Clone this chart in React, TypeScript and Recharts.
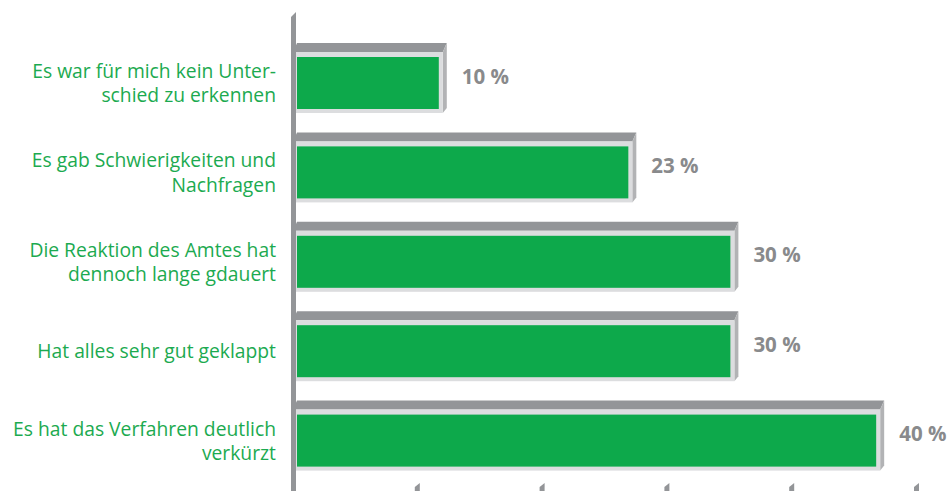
import { BarChart, Bar, XAxis, YAxis, LabelList } from "recharts"

const categories = [
  "Es war für mich kein Unter-\nschied zu erkennen",
  "Es gab Schwierigkeiten und\nNachfragen",
  "Die Reaktion des Amtes hat\ndennoch lange gdauert",
  "Hat alles sehr gut geklappt",
  "Es hat das Verfahren deutlich\nverkürzt",
]
const values = [10, 23, 30, 30, 40]
const xMax = 42.8
const xTicks = [0, 1, 2, 3, 4, 5].map((i) => (xMax / 5) * i)

const data = categories.map((name, i) => ({ name, value: values[i] }))

const GREEN = "#0da94b"
const TEXT_GREEN = "#1caa50"
const DARK = "#939598"
const SIDE = "#b2b3b5"
const FRAME = "#dcdddf"

// 3D-looking bar: light frame, green face, dark top and grey side
const Bar3D = (props: any) => {
  const { x, y, width, height } = props
  const L = x
  const R = x + width + 4
  const T = y
  const B = y + height
  return (
    <g>
      <polygon points={`${L},${T} ${L + 4},${T - 9} ${R + 4},${T - 9} ${R},${T}`} fill={DARK} />
      <polygon points={`${R},${T} ${R + 4},${T - 9} ${R + 4},${B - 5} ${R},${B}`} fill={SIDE} />
      <rect x={L} y={T} width={R - L} height={B - T} fill={FRAME} />
      <rect x={L + 4} y={T + 5} width={R - L - 8} height={B - T - 9} fill={GREEN} />
    </g>
  )
}

const ValueLabel = (props: any) => {
  const { x, y, width, height, value } = props
  return (
    <text
      x={x + width + 23}
      y={y + height / 2 - 7}
      dominantBaseline="central"
      fontFamily="'Open Sans', sans-serif"
      fontWeight={700}
      fontSize={20.5}
      fill="#898a8c"
    >
      {`${value} %`}
    </text>
  )
}

const CategoryTick = (props: any) => {
  const { x, y, payload } = props
  const lines = String(payload.value).split("\n")
  const lh = 24.5
  const start = -((lines.length - 1) * lh) / 2
  return (
    <text
      x={x}
      y={y}
      textAnchor="end"
      fontFamily="'Open Sans', sans-serif"
      fontSize={19.3}
      fill={TEXT_GREEN}
    >
      {lines.map((l, i) => (
        <tspan key={i} x={x} y={y + start + i * lh} dominantBaseline="central">
          {l}
        </tspan>
      ))}
    </text>
  )
}

// bottom tick marks; the first one draws the vertical axis
const BottomTick = (props: any) => {
  const { x, y, index } = props
  const bottom = y + 6
  if (index === 0) {
    const top = y - 473
    return (
      <polygon
        points={`${x - 2},${top + 5} ${x + 3},${top} ${x + 3},${bottom} ${x - 2},${bottom}`}
        fill={DARK}
      />
    )
  }
  return (
    <polygon
      points={`${x - 3},${bottom} ${x - 3},${bottom - 4} ${x + 2},${bottom - 8} ${x + 2},${bottom}`}
      fill={DARK}
    />
  )
}

export default function App() {
  return (
    <div style={{ position: "absolute", left: 0, top: 0, width: 950, height: 491, background: "#fff" }}>
      <BarChart
        width={950}
        height={491}
        data={data}
        layout="vertical"
        margin={{ top: 38, right: 33, bottom: 0, left: 0 }}
      >
        <XAxis
          type="number"
          domain={[0, xMax]}
          ticks={xTicks}
          height={6}
          axisLine={false}
          tickLine={false}
          tickSize={0}
          tickMargin={0}
          tick={<BottomTick />}
          interval={0}
        />
        <YAxis
          type="category"
          dataKey="name"
          width={293}
          axisLine={false}
          tickLine={false}
          tickSize={0}
          tickMargin={17}
          tick={<CategoryTick />}
          interval={0}
        />
        <Bar dataKey="value" barSize={61} shape={<Bar3D />} isAnimationActive={false}>
          <LabelList dataKey="value" content={<ValueLabel />} />
        </Bar>
      </BarChart>
    </div>
  )
}
